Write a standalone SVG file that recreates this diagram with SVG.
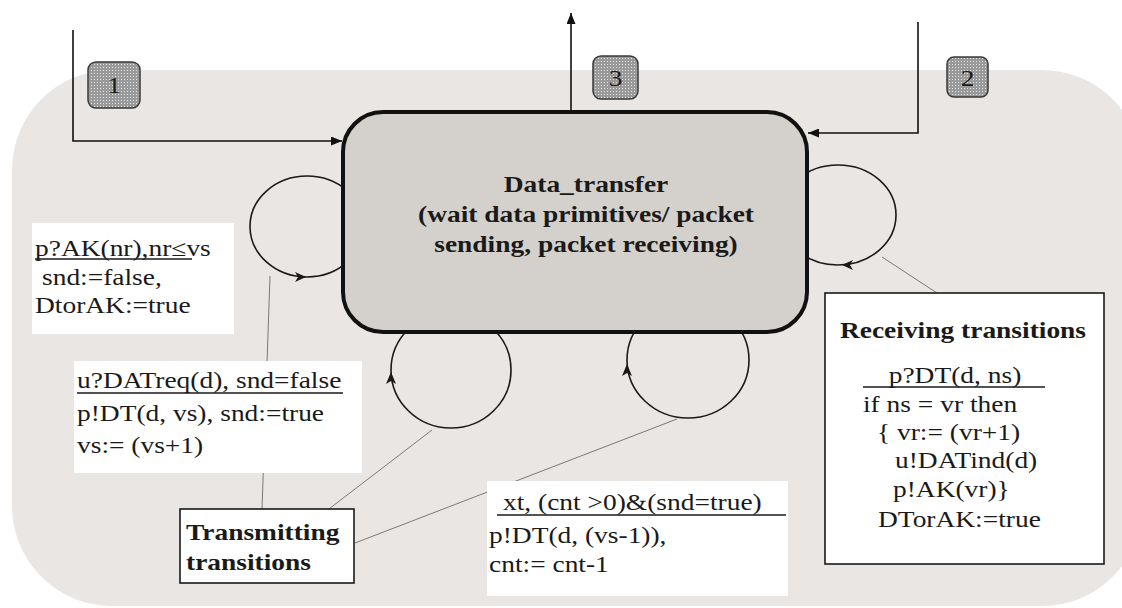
<svg xmlns="http://www.w3.org/2000/svg" width="1122" height="608" viewBox="0 0 1122 608">
  <defs>
    <style>
      .t { font-family: "Liberation Serif", "Times New Roman", serif; font-size: 22.5px; fill: #1a1a1a; }
      .b { font-weight: bold; }
      .mid { text-anchor: middle; }
      .wire { fill: none; stroke: #111; stroke-width: 1.6; }
      .loop { fill: none; stroke: #1a1a1a; stroke-width: 1.6; }
      .leader { fill: none; stroke: #7a7a7a; stroke-width: 1; }
      .note { fill: #ffffff; }
      .frame { fill: #ffffff; stroke: #1a1a1a; stroke-width: 1.6; }
      .badge { fill: url(#dots); stroke: #3a3a3a; stroke-width: 1.5; }
      .ul { stroke: #1a1a1a; stroke-width: 1.4; }
      .head { fill: #1a1a1a; }
    </style>
    <pattern id="dots" width="3" height="3" patternUnits="userSpaceOnUse">
      <rect width="3" height="3" fill="#9a9a9a"/>
      <rect x="1" y="1" width="1" height="1" fill="#e2e2e2"/>
    </pattern>
    <marker id="arrow" markerWidth="11" markerHeight="9" refX="11" refY="4.5" orient="auto" markerUnits="userSpaceOnUse">
      <path d="M0,0 L11,4.5 L0,9 Z" fill="#111"/>
    </marker>
  </defs>

  <!-- process area -->
  <rect x="12" y="70" width="1130" height="536" rx="100" ry="100" fill="#e9e6e3"/>

  <g id="connectors">
    <!-- entry / exit arrows -->
    <path class="wire" d="M73,30 V141 H342" marker-end="url(#arrow)"/>
    <path class="wire" d="M918,22 V133 H808" marker-end="url(#arrow)"/>
    <path class="wire" d="M571,112 V13" marker-end="url(#arrow)"/>

    <!-- self loops on the state -->
    <ellipse class="loop" cx="307" cy="226.5" rx="57" ry="50.5"/>
    <path class="head" d="M295,272 L306,277 L295,282 L298,277 Z"/>
    <ellipse class="loop" cx="838" cy="215" rx="58" ry="50"/>
    <path class="head" d="M853,260 L842,265 L853,270 L850,265 Z"/>
    <ellipse class="loop" cx="451" cy="370" rx="60" ry="58"/>
    <path class="head" d="M386,384 L391,372 L396,384 L391,381 Z"/>
    <ellipse class="loop" cx="688" cy="360" rx="61" ry="58"/>
    <path class="head" d="M622,376 L627,364 L632,376 L627,373 Z"/>

    <!-- annotation leaders -->
    <line class="leader" x1="270" y1="276" x2="262" y2="509"/>
    <line class="leader" x1="432" y1="430" x2="325" y2="512"/>
    <line class="leader" x1="677" y1="419" x2="355" y2="543"/>
    <line class="leader" x1="882" y1="257" x2="937" y2="293"/>
  </g>

  <g id="node-data-transfer">
    <rect x="343" y="112" width="464" height="220" rx="40" ry="40" fill="#d4d0cb" stroke="#111" stroke-width="4"/>
    <text class="t b mid" transform="translate(586,192) scale(1.22,1)">Data_transfer</text>
    <text class="t b mid" transform="translate(586,222) scale(1.22,1)">(wait data primitives/ packet</text>
    <text class="t b mid" transform="translate(586,252) scale(1.22,1)">sending, packet receiving)</text>
  </g>

  <g id="badge-1">
    <rect class="badge" x="88" y="62" width="52" height="46" rx="8"/>
    <text class="t mid" transform="translate(114,93) scale(1.22,1)">1</text>
  </g>
  <g id="badge-3">
    <rect class="badge" x="593" y="56" width="45" height="43" rx="8"/>
    <text class="t mid" transform="translate(615.5,86) scale(1.22,1)">3</text>
  </g>
  <g id="badge-2">
    <rect class="badge" x="947" y="57" width="41" height="40" rx="7"/>
    <text class="t mid" transform="translate(967.5,86) scale(1.22,1)">2</text>
  </g>

  <g id="note-ack">
    <rect class="note" x="32" y="223" width="202" height="111"/>
    <text class="t" transform="translate(35,256) scale(1.22,1)">p?AK(nr),nr≤vs</text>
    <line class="ul" x1="35" y1="259" x2="192" y2="259"/>
    <text class="t" transform="translate(42,285) scale(1.22,1)">snd:=false,</text>
    <text class="t" transform="translate(35,313) scale(1.22,1)">DtorAK:=true</text>
  </g>

  <g id="note-datreq">
    <rect class="note" x="74" y="361" width="288" height="112"/>
    <text class="t" transform="translate(77,388) scale(1.22,1)">u?DATreq(d), snd=false</text>
    <line class="ul" x1="77" y1="393" x2="343" y2="393"/>
    <text class="t" transform="translate(77,421) scale(1.22,1)">p!DT(d, vs), snd:=true</text>
    <text class="t" transform="translate(77,453) scale(1.22,1)">vs:= (vs+1)</text>
  </g>

  <g id="note-retransmit">
    <rect class="note" x="487" y="481" width="301" height="115"/>
    <text class="t" transform="translate(503,510) scale(1.22,1)">xt, (cnt &gt;0)&amp;(snd=true)</text>
    <line class="ul" x1="497" y1="515" x2="786" y2="515"/>
    <text class="t" transform="translate(489,543) scale(1.22,1)">p!DT(d, (vs-1)),</text>
    <text class="t" transform="translate(489,572) scale(1.22,1)">cnt:= cnt-1</text>
  </g>

  <g id="transmitting-transitions">
    <rect class="frame" x="180" y="509" width="174" height="74"/>
    <text class="t b" transform="translate(186,540) scale(1.22,1)">Transmitting</text>
    <text class="t b" transform="translate(186,570) scale(1.22,1)">transitions</text>
  </g>

  <g id="receiving-transitions">
    <rect class="frame" x="825" y="293" width="279" height="271"/>
    <text class="t b mid" transform="translate(963,338) scale(1.22,1)">Receiving transitions</text>
    <text class="t mid" transform="translate(955,383) scale(1.22,1)">p?DT(d, ns)</text>
    <line class="ul" x1="863" y1="387" x2="1045" y2="387"/>
    <text class="t" transform="translate(863,412) scale(1.22,1)">if ns = vr then</text>
    <text class="t" transform="translate(877,440) scale(1.22,1)">{ vr:= (vr+1)</text>
    <text class="t" transform="translate(895,468) scale(1.22,1)">u!DATind(d)</text>
    <text class="t" transform="translate(893,497) scale(1.22,1)">p!AK(vr)}</text>
    <text class="t" transform="translate(878,527) scale(1.22,1)">DTorAK:=true</text>
  </g>
</svg>
